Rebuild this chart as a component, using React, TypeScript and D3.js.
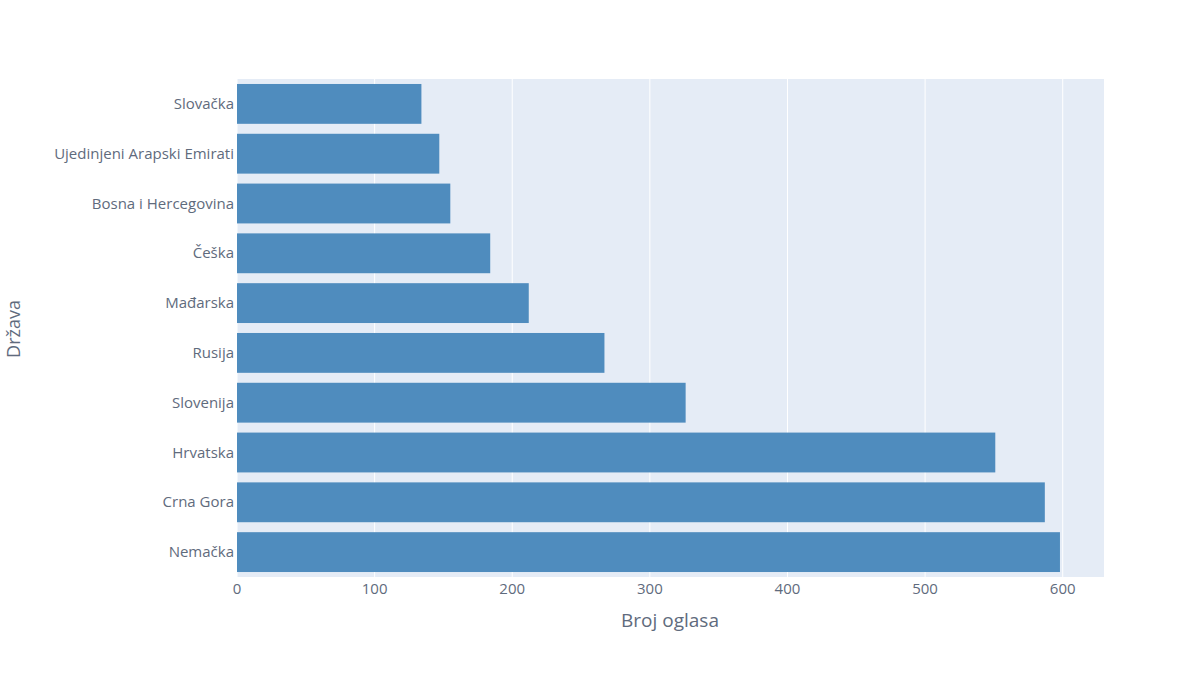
import React from "react";
import * as d3 from "d3";

const countries = [
  "Slovačka",
  "Ujedinjeni Arapski Emirati",
  "Bosna i Hercegovina",
  "Češka",
  "Mađarska",
  "Rusija",
  "Slovenija",
  "Hrvatska",
  "Crna Gora",
  "Nemačka",
];
const counts = [134, 147, 155, 184, 212, 267, 326, 551, 587, 598];
const xTicks = [0, 100, 200, 300, 400, 500, 600];

const W = 1200;
const H = 682;
const left = 237;
const right = 1104;
const top = 79;
const bottom = 577;

export default function App() {
  const x = d3.scaleLinear().domain([0, 630]).range([left, right]);
  const y = d3
    .scaleBand<string>()
    .domain(countries)
    .range([top, bottom])
    .paddingInner(0.2)
    .paddingOuter(0.1);
  const font = "'Open Sans', sans-serif";
  const textColor = "#5f6b7d";
  return (
    <svg
      width={W}
      height={H}
      style={{ position: "absolute", left: 0, top: 0, background: "#fff" }}
      fontFamily={font}
    >
      <rect x={left} y={top} width={right - left} height={bottom - top} fill="#e5ecf6" />
      {xTicks.map((t) => (
        <line key={t} x1={x(t)} x2={x(t)} y1={top} y2={bottom} stroke="#fff" strokeWidth={1} />
      ))}
      {countries.map((c, i) => (
        <rect
          key={c}
          x={x(0)}
          y={y(c)!}
          width={x(counts[i]) - x(0)}
          height={y.bandwidth()}
          fill="#4f8cbe"
        />
      ))}
      {countries.map((c) => (
        <text
          key={c}
          x={left - 3}
          y={y(c)! + y.bandwidth() / 2 + 5}
          textAnchor="end"
          fontSize={15}
          fill={textColor}
        >
          {c}
        </text>
      ))}
      {xTicks.map((t) => (
        <text
          key={t}
          x={x(t)}
          y={594}
          textAnchor="middle"
          fontSize={15}
          fill={textColor}
        >
          {t}
        </text>
      ))}
      <text
        x={670}
        y={627}
        textAnchor="middle"
        fontSize={19}
        fill={textColor}
      >
        Broj oglasa
      </text>
      <text
        transform={`translate(20, 329) rotate(-90)`}
        textAnchor="middle"
        fontSize={18}
        fill={textColor}
      >
        Država
      </text>
    </svg>
  );
}
